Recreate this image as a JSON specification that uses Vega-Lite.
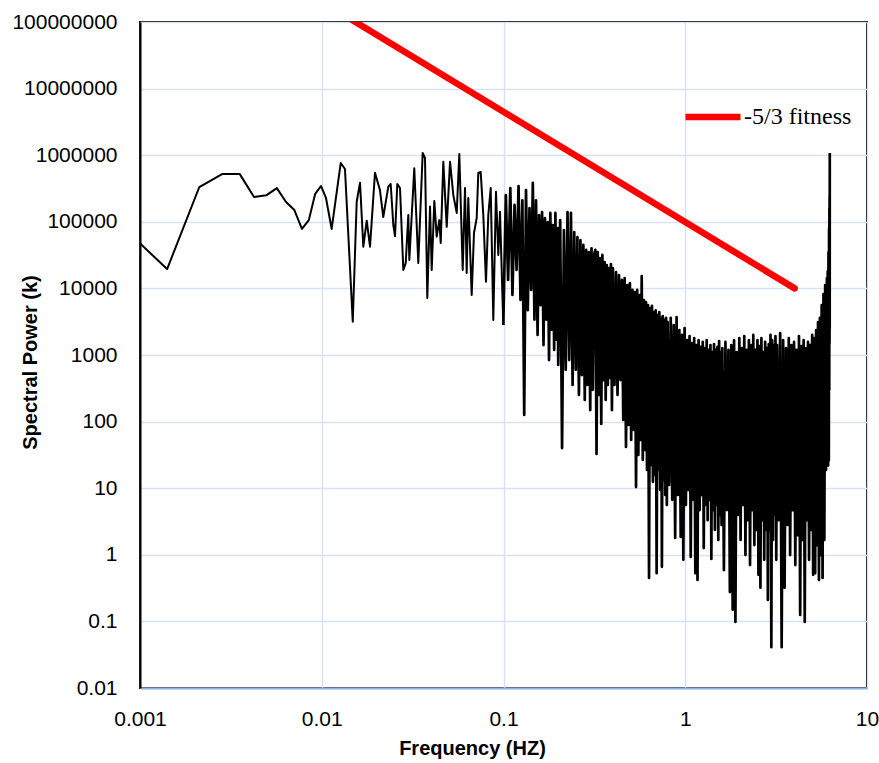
{
"$schema":"https://vega.github.io/schema/vega-lite/v6.json",
"width":727,"height":666,
"autosize":{"type":"none"},
"padding":{"left":140,"top":22,"right":12,"bottom":75},
"background":"white",
"config":{"view":{"stroke":"#000000","strokeWidth":2},"font":"Liberation Sans"},
"datasets":{
"spectrum":[
{"f":0.000707,"p":116000},{"f":0.00141,"p":19500},{"f":0.00212,"p":333000},{"f":0.00283,"p":520000},{"f":0.00354,"p":520000},{"f":0.00424,"p":236000},{"f":0.00495,"p":250000},{"f":0.00566,"p":320000},{"f":0.00636,"p":198000},{"f":0.00707,"p":150000},{"f":0.00778,"p":78000},{"f":0.00849,"p":106000},{"f":0.00919,"p":260000},{"f":0.0099,"p":345000},
{"f":0.01055,"p":228000},{"f":0.01134,"p":78000},{"f":0.01272,"p":764000},{"f":0.01342,"p":620000},{"f":0.01481,"p":3160},{"f":0.01557,"p":200000},{"f":0.01624,"p":386000},{"f":0.01693,"p":42300},{"f":0.01768,"p":104000},{"f":0.01843,"p":42300},{"f":0.01963,"p":546000},{"f":0.0209,"p":300000},{"f":0.0218,"p":118000},{"f":0.02324,"p":337000},{"f":0.02395,"p":370000},{"f":0.02476,"p":89600},{"f":0.0253,"p":61000},{"f":0.02604,"p":370000},{"f":0.02695,"p":322000},{"f":0.02811,"p":18900},{"f":0.02897,"p":24000},{"f":0.02994,"p":126000},{"f":0.03033,"p":26700},{"f":0.03229,"p":636000},{"f":0.03398,"p":24000},{"f":0.03592,"p":1080000},{"f":0.03699,"p":908000},{"f":0.03808,"p":7200},{"f":0.03942,"p":169000},{"f":0.04027,"p":18900},{"f":0.04162,"p":205000},{"f":0.04291,"p":59700},{"f":0.04435,"p":106000},{"f":0.04514,"p":48000},{"f":0.04665,"p":798000},{"f":0.04871,"p":84000},{"f":0.05079,"p":798000},{"f":0.05296,"p":252000},{"f":0.05528,"p":136000},{"f":0.05713,"p":1040000},{"f":0.05964,"p":18900},{"f":0.0614,"p":322000},{"f":0.06273,"p":17000},{"f":0.064,"p":228000},{"f":0.0654,"p":42300},{"f":0.06683,"p":7960},{"f":0.06881,"p":67900},{"f":0.07121,"p":114000},{"f":0.07267,"p":540000},{"f":0.07491,"p":560000},{"f":0.07742,"p":126000},{"f":0.08011,"p":12600},{"f":0.08249,"p":126000},{"f":0.08503,"p":322000},{"f":0.08788,"p":3360},{"f":0.09093,"p":283000},{"f":0.09363,"p":31700},{"f":0.09566,"p":142000},{"f":0.09975,"p":2820},
{"f":0.103,"p":252000},{"f":0.106,"p":13400},{"f":0.109,"p":322000},{"f":0.112,"p":7960},{"f":0.115,"p":179000},{"f":0.118,"p":19000},{"f":0.121,"p":345000},{"f":0.124,"p":6700},{"f":0.127,"p":210000},{"f":0.13,"p":126},{"f":0.133,"p":300000},{"f":0.136,"p":4700},{"f":0.139,"p":161000},{"f":0.142,"p":9500},{"f":0.145,"p":383000},{"f":0.148,"p":3400},{"f":0.151,"p":210000},{"f":0.154,"p":2000},{"f":0.157,"p":126000},{"f":0.16,"p":5600},{"f":0.163,"p":140000},{"f":0.166,"p":1410},{"f":0.169,"p":114000},{"f":0.172,"p":3400},{"f":0.175,"p":99000},{"f":0.178,"p":840},{"f":0.181,"p":136000},{"f":0.184,"p":2400},{"f":0.187,"p":89500},{"f":0.19,"p":1190},{"f":0.193,"p":136000},{"f":0.196,"p":1700},{"f":0.199,"p":80700},
{"f":0.2,"p":708},{"f":0.205,"p":106000},{"f":0.21,"p":40},{"f":0.215,"p":75000},{"f":0.22,"p":600},{"f":0.225,"p":140000},{"f":0.23,"p":840},{"f":0.235,"p":136000},{"f":0.24,"p":355},{"f":0.245,"p":70000},{"f":0.25,"p":600},{"f":0.255,"p":59000},{"f":0.26,"p":251},{"f":0.265,"p":53000},{"f":0.27,"p":500},{"f":0.275,"p":45000},{"f":0.28,"p":211},{"f":0.285,"p":38000},{"f":0.29,"p":355},{"f":0.295,"p":35000},{"f":0.3,"p":149},{"f":0.305,"p":40000},{"f":0.31,"p":300},{"f":0.315,"p":31800},{"f":0.32,"p":38000},{"f":0.325,"p":32.7},{"f":0.33,"p":35000},{"f":0.335,"p":251},{"f":0.34,"p":28600},{"f":0.345,"p":92},{"f":0.35,"p":31800},{"f":0.355,"p":420},{"f":0.36,"p":24900},{"f":0.365,"p":211},{"f":0.37,"p":22400},{"f":0.375,"p":355},{"f":0.38,"p":20200},{"f":0.385,"p":452},{"f":0.39,"p":23200},{"f":0.395,"p":149},
{"f":0.4,"p":20200},{"f":0.408,"p":355},{"f":0.416,"p":17600},{"f":0.424,"p":251},{"f":0.432,"p":15900},{"f":0.44,"p":420},{"f":0.448,"p":13400},{"f":0.456,"p":106},{"f":0.464,"p":14300},{"f":0.472,"p":41.6},{"f":0.48,"p":11200},{"f":0.488,"p":89},{"f":0.496,"p":12000},{"f":0.504,"p":53},{"f":0.512,"p":9500},{"f":0.52,"p":75},{"f":0.528,"p":8800},{"f":0.536,"p":10.4},{"f":0.544,"p":9500},{"f":0.552,"p":31.5},{"f":0.56,"p":7960},{"f":0.568,"p":53},{"f":0.576,"p":15300},{"f":0.584,"p":26.5},{"f":0.592,"p":6700},{"f":0.6,"p":37.5},{"f":0.608,"p":6250},{"f":0.616,"p":18.8},{"f":0.624,"p":5600},{"f":0.632,"p":0.45},{"f":0.64,"p":5080},{"f":0.648,"p":22.3},{"f":0.656,"p":5450},{"f":0.664,"p":12.4},{"f":0.672,"p":4420},{"f":0.68,"p":15.8},{"f":0.688,"p":4700},{"f":0.696,"p":0.53},{"f":0.704,"p":3990},{"f":0.712,"p":18.8},{"f":0.72,"p":4420},{"f":0.728,"p":9.4},{"f":0.736,"p":3600},{"f":0.744,"p":0.66},{"f":0.752,"p":3850},{"f":0.76,"p":13.3},{"f":0.768,"p":3350},{"f":0.776,"p":7.9},{"f":0.784,"p":3600},{"f":0.792,"p":5.6},
{"f":0.8,"p":3130},{"f":0.816,"p":11.2},{"f":0.832,"p":3600},{"f":0.848,"p":6.7},{"f":0.864,"p":2820},{"f":0.88,"p":1.79},{"f":0.896,"p":3720},{"f":0.912,"p":7.9},{"f":0.928,"p":2370},{"f":0.944,"p":1.85},{"f":0.96,"p":2000},{"f":0.976,"p":0.84},{"f":0.992,"p":2540},{"f":1.008,"p":5.6},{"f":1.024,"p":1680},{"f":1.04,"p":9.4},{"f":1.056,"p":1930},{"f":1.072,"p":0.93},{"f":1.088,"p":1510},{"f":1.104,"p":6.7},{"f":1.12,"p":1800},{"f":1.136,"p":0.53},{"f":1.152,"p":1410},{"f":1.168,"p":0.42},{"f":1.184,"p":1680},{"f":1.2,"p":4.7},{"f":1.216,"p":1320},{"f":1.232,"p":7.9},{"f":1.248,"p":1570},{"f":1.264,"p":1.26},{"f":1.28,"p":1270},{"f":1.296,"p":5.6},{"f":1.312,"p":1680},{"f":1.328,"p":3.3},{"f":1.344,"p":1190},{"f":1.36,"p":6.7},{"f":1.376,"p":1410},{"f":1.392,"p":0.865},{"f":1.408,"p":1110},{"f":1.424,"p":4.7},{"f":1.44,"p":1460},{"f":1.456,"p":2.36},{"f":1.472,"p":1190},{"f":1.488,"p":5.6},{"f":1.504,"p":1320},{"f":1.52,"p":1.67},{"f":1.536,"p":1620},{"f":1.552,"p":3.96},{"f":1.568,"p":1110},{"f":1.584,"p":2.8},
{"f":1.6,"p":1270},{"f":1.632,"p":0.59},{"f":1.664,"p":1570},{"f":1.696,"p":4.7},{"f":1.728,"p":1190},{"f":1.76,"p":0.276},{"f":1.792,"p":1410},{"f":1.824,"p":0.15},{"f":1.856,"p":1680},{"f":1.888,"p":0.098},{"f":1.92,"p":1110},{"f":1.952,"p":3.96},{"f":1.984,"p":1800},{"f":2.016,"p":1.67},{"f":2.048,"p":1270},{"f":2.08,"p":5.6},{"f":2.112,"p":1930},{"f":2.144,"p":0.99},{"f":2.176,"p":1190},{"f":2.208,"p":3.3},{"f":2.24,"p":1680},{"f":2.272,"p":0.7},{"f":2.304,"p":1410},{"f":2.336,"p":4.7},{"f":2.368,"p":2000},{"f":2.4,"p":1.4},{"f":2.432,"p":1190},{"f":2.464,"p":2.36},{"f":2.496,"p":1680},{"f":2.528,"p":0.5},{"f":2.56,"p":1360},{"f":2.592,"p":0.32},{"f":2.624,"p":1800},{"f":2.656,"p":3.3},{"f":2.688,"p":1110},{"f":2.72,"p":0.84},{"f":2.752,"p":1570},{"f":2.784,"p":2.36},{"f":2.816,"p":1270},{"f":2.848,"p":0.21},{"f":2.88,"p":1460},{"f":2.912,"p":2.36},{"f":2.944,"p":2000},{"f":2.976,"p":0.041},{"f":3.008,"p":1680},{"f":3.04,"p":1.67},{"f":3.072,"p":1410},{"f":3.104,"p":3.96},{"f":3.136,"p":1930},{"f":3.168,"p":0.84},
{"f":3.2,"p":1410},{"f":3.264,"p":3.3},{"f":3.328,"p":2140},{"f":3.392,"p":0.041},{"f":3.456,"p":1680},{"f":3.52,"p":0.32},{"f":3.584,"p":1270},{"f":3.648,"p":2.8},{"f":3.712,"p":1800},{"f":3.776,"p":0.99},{"f":3.84,"p":1410},{"f":3.904,"p":4.7},{"f":3.968,"p":1570},{"f":4.032,"p":0.7},{"f":4.096,"p":1190},{"f":4.16,"p":1.98},{"f":4.224,"p":1930},{"f":4.288,"p":0.125},{"f":4.352,"p":1360},{"f":4.416,"p":1.67},{"f":4.48,"p":1680},{"f":4.544,"p":0.098},{"f":4.608,"p":1270},{"f":4.672,"p":3.3},{"f":4.736,"p":1570},{"f":4.8,"p":0.84},{"f":4.864,"p":1410},{"f":4.928,"p":2.36},{"f":4.992,"p":2000},{"f":5.056,"p":0.5},{"f":5.12,"p":1800},{"f":5.184,"p":0.53},{"f":5.248,"p":2370},{"f":5.312,"p":1.4},{"f":5.376,"p":3130},{"f":5.44,"p":0.42},{"f":5.504,"p":3600},{"f":5.568,"p":0.99},{"f":5.632,"p":5600},{"f":5.696,"p":0.45},{"f":5.76,"p":8200},{"f":5.824,"p":1.67},{"f":5.888,"p":11200},{"f":5.952,"p":18.8},{"f":6.016,"p":14300},{"f":6.048,"p":30},{"f":6.08,"p":18000},{"f":6.11,"p":22},{"f":6.14,"p":35000},{"f":6.165,"p":26},{"f":6.185,"p":80000},{"f":6.2,"p":300},{"f":6.21,"p":160000},{"f":6.22,"p":1500},{"f":6.228,"p":250000},{"f":6.234,"p":2500},{"f":6.24,"p":1080000}
],
"fit":[{"f":0.01,"p":203000000,"series":"-5/3 fitness"},{"f":4,"p":10000,"series":"-5/3 fitness"}]
},
"layer":[
{"data":{"name":"spectrum"},
"transform":[{"filter":"datum.f <= 0.09975"}],
"mark":{"type":"line","color":"#000000","strokeWidth":2,"strokeJoin":"round","clip":true},
"encoding":{
"x":{"field":"f","type":"quantitative","scale":{"type":"log","domain":[0.001,10]},
"axis":{"values":[0.001,0.01,0.1,1,10],"format":".6~f","title":"Frequency (HZ)","ticks":false,"labelPadding":20,"labelFontSize":21,"labelFontWeight":"normal","labelColor":"#000","labelFlush":false,"labelOverlap":false,"domainColor":"#8EB4E3","domainWidth":2,"gridColor":"#D6E2F3","gridWidth":1.5,"titleFont":"Liberation Sans","titleFontWeight":"bold","titleFontSize":20,"titleColor":"#000","titleX":332,"titleY":60,"titleBaseline":"middle","titleAlign":"center"}},
"y":{"field":"p","type":"quantitative","scale":{"type":"log","domain":[0.01,100000000]},
"axis":{"values":[0.01,0.1,1,10,100,1000,10000,100000,1000000,10000000,100000000],"format":".6~f","title":"Spectral Power (k)","ticks":false,"labelPadding":23,"labelFontSize":21,"labelFontWeight":"normal","labelColor":"#000","labelOverlap":false,"domainColor":"#000","domainWidth":2,"gridColor":"#D6E2F3","gridWidth":1.5,"titleFont":"Liberation Sans","titleFontWeight":"bold","titleFontSize":20,"titleColor":"#000","titleX":-110,"titleY":340,"titleAngle":-90,"titleBaseline":"middle","titleAlign":"center"}}
}},
{"data":{"name":"spectrum"},
"transform":[{"filter":"datum.f >= 0.09975"}],
"mark":{"type":"line","color":"#000000","strokeWidth":2.7,"strokeJoin":"round","clip":true},
"encoding":{
"x":{"field":"f","type":"quantitative"},
"y":{"field":"p","type":"quantitative"}
}},
{"data":{"name":"fit"},
"mark":{"type":"line","strokeWidth":6.5,"strokeCap":"round","clip":true},
"encoding":{
"x":{"field":"f","type":"quantitative"},
"y":{"field":"p","type":"quantitative"},
"color":{"field":"series","type":"nominal","scale":{"domain":["-5/3 fitness"],"range":["#FF0000"]},
"legend":{"orient":"none","legendX":542,"legendY":64,"title":null,"symbolType":"stroke","symbolSize":3025,"symbolStrokeWidth":6.5,"labelFont":"Liberation Serif","labelFontSize":24,"labelColor":"#000","labelOffset":0,"padding":0}}
}}
]
}
